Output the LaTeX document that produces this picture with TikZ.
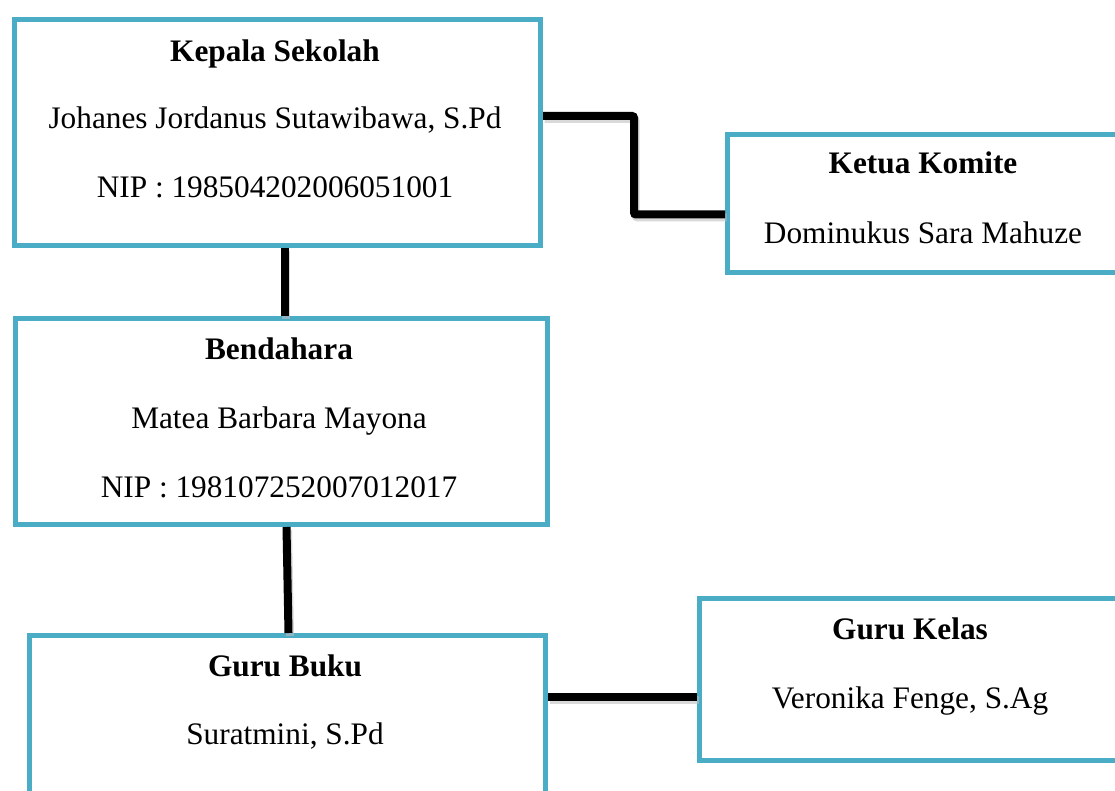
\documentclass[tikz,border=0pt]{standalone}
\usepackage{fontspec}
\setmainfont{Liberation Serif}
\definecolor{boxblue}{HTML}{4BACC6}
\tikzset{
  orgbox/.style={draw=boxblue, line width=5pt, fill=white, rectangle, inner sep=0pt, anchor=north west},
  txt/.style={font=\fontsize{31.3}{37}\selectfont, inner sep=0pt, anchor=base},
  ttl/.style={txt, font=\fontsize{31.3}{37}\selectfont\bfseries},
  link/.style={line width=8pt, black},
  linkshadow/.style={line width=8pt, black!25, opacity=0.6}
}
\begin{document}
\begin{tikzpicture}[x=1pt,y=-1pt]
\useasboundingbox (0,0) rectangle (1115,791);
\clip (0,0) rectangle (1115,791);
% boxes
\node[orgbox, minimum width=526pt, minimum height=226pt] (kepala) at (12,17) {};
\node[orgbox, minimum width=398pt, minimum height=138pt] (komite) at (725,132) {};
\node[orgbox, minimum width=532pt, minimum height=206pt] (bendahara) at (13,316) {};
\node[orgbox, minimum width=516pt, minimum height=187pt] (gurubuku) at (27,633) {};
\node[orgbox, minimum width=426pt, minimum height=162pt] (gurukelas) at (697,596) {};
% connectors (shadows)
\begin{scope}[transform canvas={shift={(1.5pt,-3pt)}}]
\draw[linkshadow, rounded corners=2pt] ([yshift=16.5pt]kepala.east) -- ++(91,0) |- ([yshift=-11pt]komite.west);
\draw[linkshadow] ([xshift=7pt]kepala.south) -- ([xshift=3pt]bendahara.north);
\draw[linkshadow] ([xshift=5pt]bendahara.south) -- ([xshift=1pt]gurubuku.north);
\draw[linkshadow] ([yshift=32.5pt]gurubuku.east) -- ([yshift=-17pt]gurukelas.west);
\end{scope}
% connectors
\draw[link, rounded corners=2pt] ([yshift=16.5pt]kepala.east) -- ++(91,0) |- ([yshift=-11pt]komite.west);
\draw[link] ([xshift=7pt]kepala.south) -- ([xshift=3pt]bendahara.north);
\draw[link] ([xshift=5pt]bendahara.south) -- ([xshift=1pt]gurubuku.north);
\draw[link] ([yshift=32.5pt]gurubuku.east) -- ([yshift=-17pt]gurukelas.west);
% texts
\node[ttl] (kepalaT) at (275,62) {Kepala Sekolah};
\node[txt] (kepalaN) at (275,129) {Johanes Jordanus Sutawibawa, S.Pd};
\node[txt] (kepalaNIP) at (275,198) {NIP : 198504202006051001};
\node[ttl] (komiteT) at (923,174) {Ketua Komite};
\node[txt] (komiteN) at (923,244) {Dominukus Sara Mahuze};
\node[ttl] (bendaharaT) at (279,359) {Bendahara};
\node[txt] (bendaharaN) at (279,428) {Matea Barbara Mayona};
\node[txt] (bendaharaNIP) at (279,497) {NIP : 198107252007012017};
\node[ttl] (gurubukuT) at (285,676) {Guru Buku};
\node[txt] (gurubukuN) at (285,744) {Suratmini, S.Pd};
\node[ttl] (gurukelasT) at (910,639) {Guru Kelas};
\node[txt] (gurukelasN) at (910,708) {Veronika Fenge, S.Ag};
\end{tikzpicture}
\end{document}
